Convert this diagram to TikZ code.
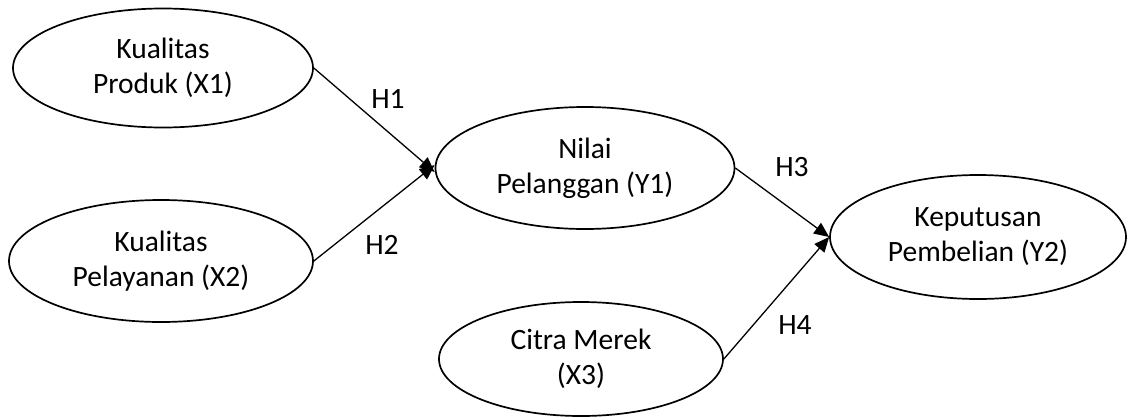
\documentclass[tikz,border=0pt]{standalone}
\usepackage{fontspec}
\setmainfont{Carlito}
\usetikzlibrary{shapes.geometric,arrows.meta}
\begin{document}
\begin{tikzpicture}[x=1pt,y=-1pt,
  construct/.style={ellipse,draw,line width=1.7pt,inner sep=0pt,align=center,
    font=\fontsize{29.5}{35}\selectfont},
  path/.style={line width=1.3pt,-{Triangle[length=15pt,width=13pt]}},
  hyp/.style={font=\fontsize{29.5}{34}\selectfont,inner sep=0pt}]
  \useasboundingbox (0,0) rectangle (1128,418);

  % constructs
  \node[construct,minimum width=300,minimum height=119] (X1) at (163,68) {Kualitas\\Produk (X1)};
  \node[construct,minimum width=304,minimum height=122] (X2) at (161,261) {Kualitas\\Pelayanan (X2)};
  \node[construct,minimum width=299,minimum height=122] (Y1) at (585,168) {Nilai\\Pelanggan (Y1)};
  \node[construct,minimum width=284,minimum height=114] (X3) at (581,359) {Citra Merek\\(X3)};
  \node[construct,minimum width=296,minimum height=124] (Y2) at (978,237) {Keputusan\\Pembelian (Y2)};

  % hypothesised paths
  \draw[path] (X1.east) -- ([yshift=-4pt]Y1.west);
  \draw[path] (X2.east) -- ([yshift=3pt]Y1.west);
  \draw[path] (Y1.east) -- (Y2.west);
  \draw[path] (X3.east) -- (Y2.west);

  % path labels
  \node[hyp] (H1) at (388,99) {H1};
  \node[hyp] (H2) at (382,245) {H2};
  \node[hyp] (H3) at (792,167) {H3};
  \node[hyp] (H4) at (795,325) {H4};
\end{tikzpicture}
\end{document}
